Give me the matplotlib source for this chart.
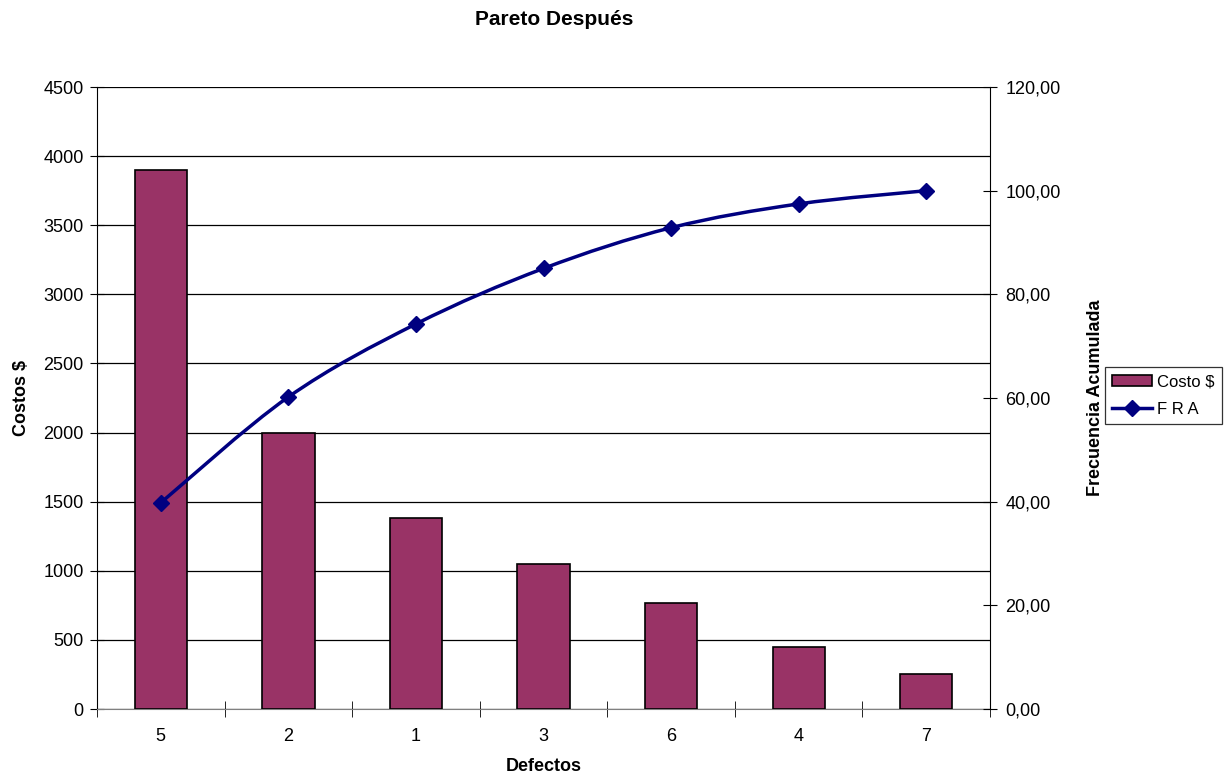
import numpy as np
import matplotlib.pyplot as plt
from matplotlib.path import Path
from matplotlib.patches import PathPatch, Patch
from matplotlib.lines import Line2D
from matplotlib.ticker import FuncFormatter, MultipleLocator

plt.rcParams['font.family'] = ['Liberation Sans', 'DejaVu Sans']
plt.rcParams['font.size'] = 13

# defectos ordenados por costo
defectos = ['5', '2', '1', '3', '6', '4', '7']
costos = [3900, 2000, 1380, 1050, 770, 450, 250]
fra = [39.80, 60.20, 74.29, 85.00, 92.86, 97.45, 100.00]

bar_color = '#993366'
line_color = '#000080'

fig = plt.figure(figsize=(12.25, 7.77), dpi=100)
ax = fig.add_axes([0.0792, 0.0875, 0.729, 0.8005])
x = np.arange(len(defectos))

ax.bar(x, costos, width=0.41, color=bar_color, edgecolor='black', linewidth=1.2, zorder=3)
ax.set_xlim(-0.5, len(defectos) - 0.5)
ax.set_ylim(0, 4500)
ax.yaxis.set_major_locator(MultipleLocator(500))
ax.grid(axis='y', color='black', linewidth=0.9, zorder=0)
ax.set_axisbelow(True)

ax.set_xticks(x)
ax.set_xticklabels(defectos)
ax.set_xticks(np.arange(-0.5, len(defectos)), minor=True)
ax.tick_params(axis='x', which='major', length=0, pad=14)
ax.tick_params(axis='x', which='minor', direction='inout', length=12, color='black')
ax.tick_params(axis='y', direction='inout', length=10, color='black', pad=4.5)

ax.spines['top'].set_visible(False)
ax.spines['right'].set_visible(False)
ax.spines['bottom'].set_color('#808080')
ax.spines['left'].set_color('black')

ax.set_xlabel('Defectos', fontweight='bold', labelpad=9)
ax.set_ylabel('Costos $', fontweight='bold', labelpad=10)
fig.text(0.4525, 0.975, 'Pareto Después', ha='center', va='center',
         fontweight='bold', fontsize=15)

# eje secundario: frecuencia relativa acumulada
ax2 = ax.twinx()
ax2.set_ylim(0, 120)
ax2.yaxis.set_major_locator(MultipleLocator(20))
ax2.yaxis.set_major_formatter(FuncFormatter(lambda v, p: f'{v:.2f}'.replace('.', ',')))
ax2.tick_params(axis='y', direction='inout', length=10, color='black', pad=6)
for s in ['top', 'left', 'bottom']:
    ax2.spines[s].set_visible(False)
ax2.spines['right'].set_color('black')
ax2.set_ylabel('Frecuencia Acumulada', fontweight='bold', labelpad=19)

# curva suavizada (Catmull-Rom -> Bezier)
pts = np.column_stack([x, fra]).astype(float)
verts = [pts[0]]
codes = [Path.MOVETO]
for i in range(len(pts) - 1):
    p0 = pts[i - 1] if i > 0 else pts[i]
    p1 = pts[i]
    p2 = pts[i + 1]
    p3 = pts[i + 2] if i + 2 < len(pts) else pts[i + 1]
    c1 = p1 + (p2 - p0) / 6.0
    c2 = p2 - (p3 - p1) / 6.0
    verts += [c1, c2, p2]
    codes += [Path.CURVE4] * 3
ax2.add_patch(PathPatch(Path(verts, codes), facecolor='none', edgecolor=line_color,
                        linewidth=2.5, zorder=4))
ax2.plot(x, fra, linestyle='none', marker='D', markersize=8, color=line_color, zorder=5)

handles = [Patch(facecolor=bar_color, edgecolor='black', linewidth=1.2),
           Line2D([], [], color=line_color, linewidth=2.5, marker='D', markersize=8)]
leg = fig.legend(handles, ['Costo $', 'F R A'], loc='upper left',
                 bbox_to_anchor=(0.902, 0.528), frameon=True, fancybox=False,
                 edgecolor='black', fontsize=12, borderpad=0.45, labelspacing=0.75,
                 handlelength=2.4, handletextpad=0.3, borderaxespad=0)
leg.get_frame().set_linewidth(0.9)

fig.savefig('out.png', dpi=100)
